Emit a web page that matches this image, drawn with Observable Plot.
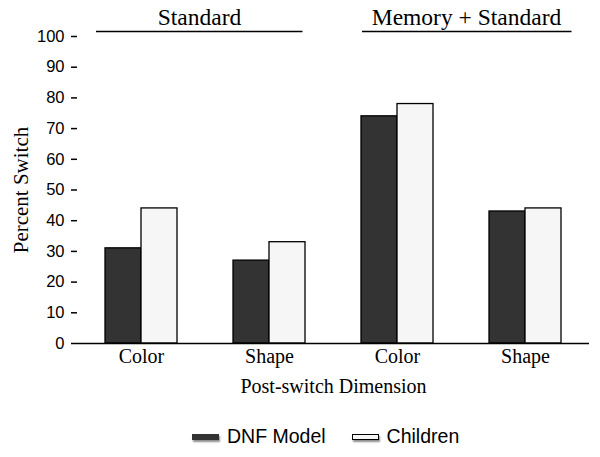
<!DOCTYPE html>
<html>
<head>
<meta charset="utf-8">
<script src="https://cdn.jsdelivr.net/npm/d3@7"></script>
<script src="https://cdn.jsdelivr.net/npm/@observablehq/plot@0.6"></script>
<style>
  body { margin: 0; background: #fff; }
  #chart svg { display: block; color: #000; }
  [aria-label="y-axis label"] { font-family: "Liberation Serif", "Times New Roman", serif; font-size: 21px; }
  #legend { display: flex; align-items: center; margin-left: 192px; margin-top: 20px;
    font-family: "Liberation Sans", Arial, sans-serif; font-size: 19.5px; color: #000; }
  .item { display: flex; align-items: center; margin-right: 26px; }
  .sw { width: 27px; height: 6px; margin-right: 8px; box-shadow: 1px 2px 2px rgba(0,0,0,0.45); box-sizing: border-box; }
</style>
</head>
<body>
<div id="chart"></div>
<div id="legend"></div>
<script>
const conditions = ["Standard", "Memory + Standard"];
const dimensions = ["Color", "Shape"];
const series = ["DNF Model", "Children"];
const dnfModel = [31, 27, 74, 43];
const children = [44, 33, 78, 44];
const yTicks = [0, 10, 20, 30, 40, 50, 60, 70, 80, 90, 100];
const seriesFill = ["#333333", "#f6f6f6"];
const seriesStroke = ["none", "#000"];

const keys = conditions.flatMap(c => dimensions.map(d => c + "|" + d));
const data = [];
keys.forEach((k, i) => {
  data.push({key: k, series: series[0], value: dnfModel[i]});
  data.push({key: k, series: series[1], value: children[i]});
});

const serif = "Liberation Serif, Times New Roman, serif";
const sans = "Liberation Sans, Arial, sans-serif";
const yMax = d3.max(yTicks);

const chart = Plot.plot({
  width: 600,
  height: 405,
  marginTop: 36,
  marginBottom: 62,
  marginLeft: 76,
  marginRight: 10,
  fx: {domain: keys, padding: 0, label: null},
  x: {domain: series, paddingInner: 0, paddingOuter: 0.736, axis: null},
  y: {domain: [0, yMax]},
  color: {domain: series, range: seriesFill},
  marks: [
    Plot.barY(data, {fx: "key", x: "series", y: "value", fill: "series", stroke: "#000", strokeWidth: 1.3}),
    Plot.ruleY([0], {stroke: "#000", strokeWidth: 1.5}),
    Plot.axisY(yTicks, {tickSize: 6, tickPadding: 7, line: true, strokeWidth: 1.5, fontSize: 16.5, fontFamily: sans,
      label: "Percent Switch", labelArrow: "none", labelAnchor: "center", labelOffset: 64}),
    Plot.axisFx({anchor: "bottom", tickSize: 0, tickPadding: 5, tickFormat: k => k.split("|")[1],
      fontSize: 20, fontFamily: serif, label: "Post-switch Dimension", labelAnchor: "center", labelOffset: 49}),
    Plot.text([conditions[0]], {fx: [keys[0]], text: d => d, frameAnchor: "top-right", textAnchor: "middle", lineAnchor: "middle",
      dx: -6, dy: -19, fontSize: 23.5, fontFamily: serif, fill: "#000"}),
    Plot.text([conditions[1]], {fx: [keys[2]], text: d => d, frameAnchor: "top-right", textAnchor: "middle", lineAnchor: "middle",
      dx: 5, dy: -19, fontSize: 23.5, fontFamily: serif, fill: "#000"}),
    Plot.ruleY([conditions[0]], {fx: [keys[0]], y: () => yMax, dy: -5, insetLeft: 19, insetRight: -97.5, stroke: "#000", strokeWidth: 1.5}),
    Plot.ruleY([conditions[1]], {fx: [keys[2]], y: () => yMax, dy: -5, insetLeft: 29, insetRight: -110.5, stroke: "#000", strokeWidth: 1.5})
  ]
});
document.getElementById("chart").append(chart);

const legend = document.getElementById("legend");
series.forEach((s, i) => {
  const item = document.createElement("div");
  item.className = "item";
  const sw = document.createElement("span");
  sw.className = "sw";
  sw.style.background = seriesFill[i];
  if (seriesStroke[i] !== "none") sw.style.border = "1.5px solid " + seriesStroke[i];
  const t = document.createElement("span");
  t.textContent = s;
  item.append(sw, t);
  legend.append(item);
});
</script>
</body>
</html>
